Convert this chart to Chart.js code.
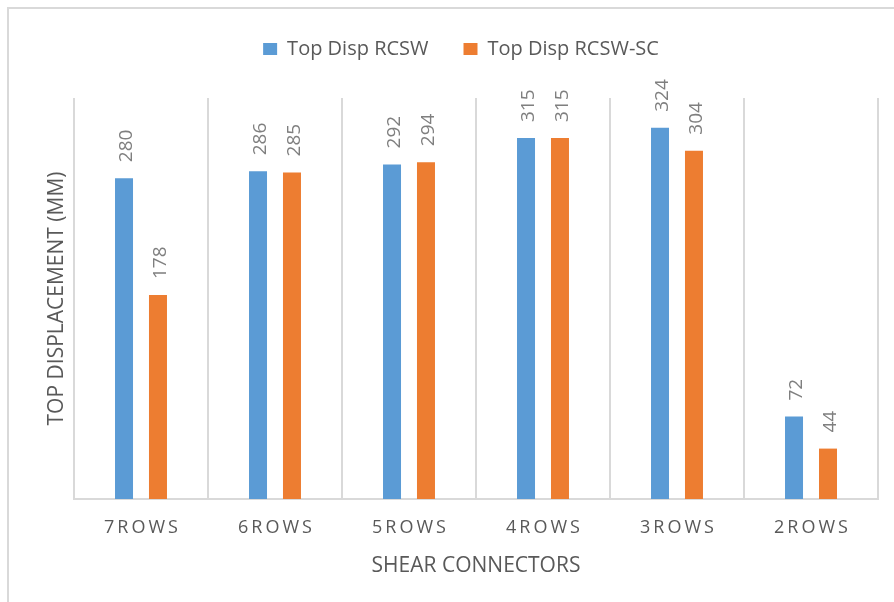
<!DOCTYPE html>
<html>
<head>
<meta charset="utf-8">
<title>Top displacement by shear connector rows</title>
<script src="https://cdn.jsdelivr.net/npm/chart.js@4.4.1/dist/chart.umd.min.js"></script>
<style>
  html, body { margin: 0; padding: 0; background: #ffffff; overflow: hidden; }
  #wrap { position: relative; width: 894px; height: 602px; }
  #frame {
    position: absolute; left: 7px; top: 7px; width: 1000px; height: 1000px;
    border-top: 2px solid #d9d9d9; border-left: 2px solid #d9d9d9;
    pointer-events: none;
  }
</style>
</head>
<body>
<div id="wrap">
  <canvas id="chart" width="894" height="602"></canvas>
  <div id="frame"></div>
</div>
<script>
// Shear connector layouts and the top displacement (mm) for each wall type
const categories = ['7ROWS', '6ROWS', '5ROWS', '4ROWS', '3ROWS', '2ROWS'];
const seriesNames = ['Top Disp RCSW', 'Top Disp RCSW-SC'];
const rcswValues = [280, 286, 292, 315, 324, 72];
const rcswScValues = [178, 285, 294, 315, 304, 44];
const yMax = 350;

const textGrey = '#595959';
const labelGrey = '#7f7f7f';
const lineGrey = '#d9d9d9';
const family = '"Open Sans", "Noto Sans", sans-serif';

// Value labels written upright (rotated) just above each bar
const barValueLabels = {
  id: 'barValueLabels',
  afterDatasetsDraw(chart) {
    const ctx = chart.ctx;
    ctx.save();
    ctx.font = '19px ' + family;
    ctx.fillStyle = labelGrey;
    ctx.textAlign = 'left';
    ctx.textBaseline = 'middle';
    chart.data.datasets.forEach((ds, di) => {
      const meta = chart.getDatasetMeta(di);
      meta.data.forEach((bar, i) => {
        ctx.save();
        ctx.translate(bar.x + 3, bar.y - 16);
        ctx.rotate(-Math.PI / 2);
        ctx.fillText(String(ds.data[i]), 0, 0);
        ctx.restore();
      });
    });
    ctx.restore();
  }
};

// Extra space under the legend row
const legendGap = {
  id: 'legendGap',
  beforeInit(chart) {
    const fit = chart.legend.fit;
    chart.legend.fit = function () {
      fit.call(this);
      this.height += 29;
    };
  }
};

new Chart(document.getElementById('chart'), {
  type: 'bar',
  data: {
    labels: categories,
    datasets: [
      {
        label: seriesNames[0],
        data: rcswValues,
        backgroundColor: '#5b9bd5',
        categoryPercentage: 0.507,
        barPercentage: 0.53
      },
      {
        label: seriesNames[1],
        data: rcswScValues,
        backgroundColor: '#ed7d31',
        categoryPercentage: 0.507,
        barPercentage: 0.53
      }
    ]
  },
  options: {
    responsive: false,
    animation: false,
    layout: { padding: { left: 44, right: 16, top: 4, bottom: 0 } },
    plugins: {
      legend: {
        position: 'top',
        labels: {
          boxWidth: 14,
          boxHeight: 12,
          padding: 35,
          color: textGrey,
          font: { family: family, size: 20 }
        }
      },
      tooltip: { enabled: false }
    },
    scales: {
      x: {
        grid: { display: true, offset: true, color: lineGrey, lineWidth: 2, drawTicks: false },
        border: { display: true, color: lineGrey, width: 2 },
        ticks: {
          color: textGrey,
          padding: 18,
          font: { family: family, size: 18 },
          callback: (value, index) => categories[index].split('').join('\u2009')
        },
        title: {
          display: true,
          text: 'SHEAR CONNECTORS',
          color: textGrey,
          font: { family: family, size: 21 },
          padding: { top: 0, bottom: 23 }
        },
        afterFit(scale) { scale.height = 103; }
      },
      y: {
        min: 0,
        max: yMax,
        grid: { display: false },
        border: { display: false },
        ticks: { display: false },
        title: {
          display: true,
          text: 'TOP DISPLACEMENT (MM)',
          color: textGrey,
          font: { family: family, size: 21 },
          padding: { top: 0, bottom: 0 }
        },
        afterFit(scale) { scale.width = 30; }
      }
    }
  },
  plugins: [barValueLabels, legendGap]
});
</script>
</body>
</html>
